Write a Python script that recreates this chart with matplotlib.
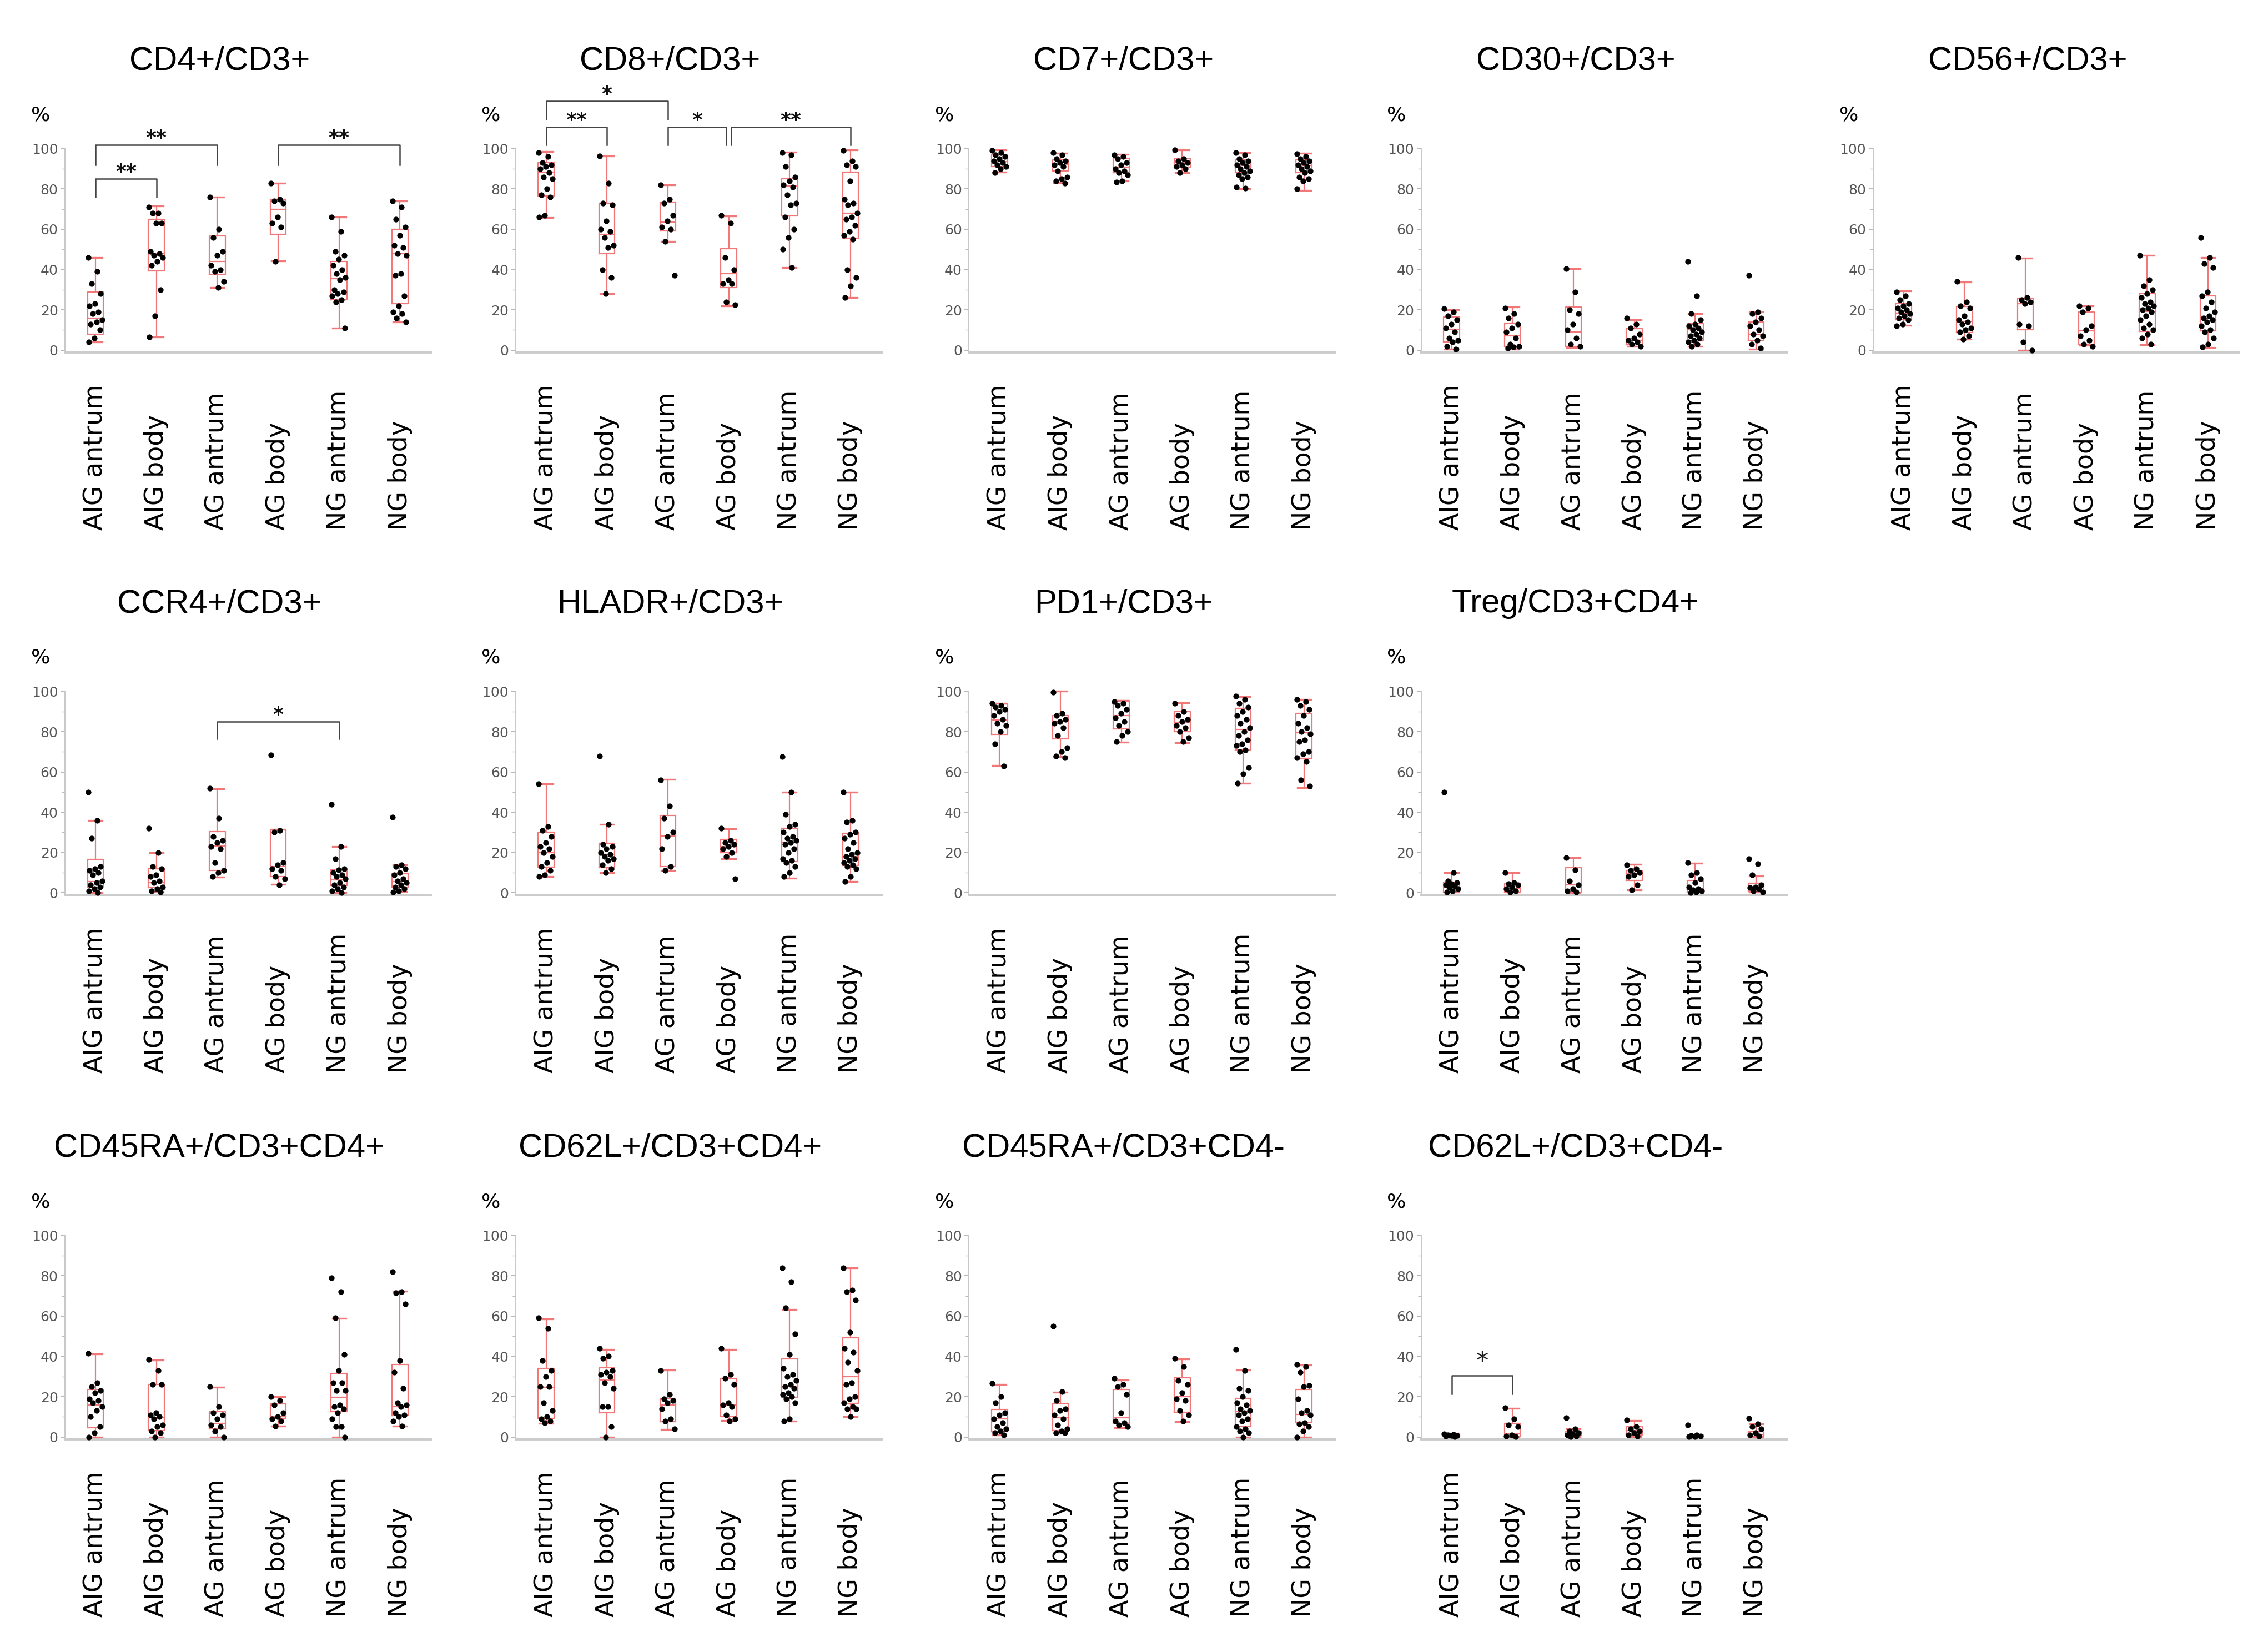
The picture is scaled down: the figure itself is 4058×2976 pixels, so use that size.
import matplotlib
matplotlib.use("Agg")
import matplotlib.pyplot as plt
from matplotlib.ticker import MultipleLocator

groups = ["AIG antrum", "AIG body", "AG antrum", "AG body", "NG antrum", "NG body"]

# box stats per group: [whisker low, q1, median, q3, whisker high]
cd4_box = [[4, 8, 16, 29, 46], [6.5, 39.4, 48, 65, 71.5], [31, 37.6, 44, 56.7, 76],
           [44.4, 57.6, 70, 75, 83], [11, 25, 35.5, 44, 66], [14, 23, 48, 60, 74]]
cd4_pts = [[46, 39, 33, 28, 23, 22, 19, 18, 15, 14, 13, 10, 6, 4],
           [71, 68, 68, 63, 63, 49, 48, 47, 46, 44, 42, 30, 17, 6.5],
           [76, 60, 56, 49, 47, 42, 40, 39, 34, 31],
           [83, 75, 74, 73, 66, 63, 61, 44],
           [66, 59, 49, 47, 45, 42, 40, 38, 36, 35, 30, 29, 28, 27, 25, 24, 11],
           [74, 71, 65, 61, 57, 52, 51, 48, 47, 38, 37, 27, 22, 19, 18, 16, 14]]

cd8_box = [[65.8, 76.5, 88.5, 93, 98.5], [28, 48, 57.5, 73, 96.5], [54, 59.3, 63.7, 73.6, 82],
           [22, 31, 38, 50.4, 66.7], [41, 66.5, 81.5, 85, 98.3], [26, 55.6, 68, 88.5, 99.5]]
cd8_pts = [[98, 96, 93, 92, 91, 90, 88, 86, 85, 80, 77, 76, 67, 66],
           [96.5, 83, 73, 72, 64, 60, 59, 56, 52, 51, 40, 36, 28],
           [82, 75, 73, 67, 64, 61, 60, 54, 37],
           [67, 63, 46, 40, 35, 33, 33, 24, 22.5],
           [98, 97, 91, 86, 84, 82, 81, 77, 73, 72, 66, 60, 56, 50, 41],
           [99, 94, 92, 91, 84, 75, 73, 72, 68, 66, 65, 62, 59, 57, 55, 40, 36, 32, 26]]

cd7_box = [[88.5, 91.2, 93.5, 96.8, 99.5], [83.2, 88.8, 92.2, 94.5, 97.7], [83.9, 88, 90.8, 95.4, 97.2],
           [88, 90.8, 93, 95, 99.5], [80, 88.5, 91.7, 94.5, 98], [79.4, 88, 91.7, 94.5, 97.7]]
cd7_pts = [[99, 98, 97, 96, 95, 94, 93, 92, 91, 90, 88],
           [98, 97, 95, 94, 93, 92, 91, 89, 86, 85, 84, 83],
           [97, 96, 95, 93, 92, 90, 89, 88, 87, 84, 83.5],
           [99.5, 95, 94, 93, 92, 91, 90, 88],
           [98, 97, 95, 94, 93, 92, 91, 90, 89, 88, 87, 86, 85, 81, 80.5],
           [97.5, 96, 95, 94, 93, 92, 91, 90, 89, 88, 86, 85, 84, 80]]

cd30_box = [[0.5, 4, 10.3, 16.5, 20], [0.5, 2, 7, 13.5, 21.4], [1.4, 2, 9, 21.4, 40.5],
            [2, 2.7, 5, 10.7, 15], [1.8, 4.6, 10, 13.3, 18], [0.6, 5, 7.8, 14, 19]]
cd30_pts = [[20.5, 19, 17, 15, 13, 11, 9, 6, 5, 4, 2, 0.5],
            [21, 18, 16, 13, 11, 9, 6, 3, 2, 1.5, 1],
            [40.5, 29, 20, 18, 13, 10, 6, 3, 2],
            [16, 13, 11, 8, 6, 5, 4, 3, 2],
            [44, 27, 18, 15, 13, 12, 11, 10, 9, 8, 7, 6, 5, 4, 3, 2],
            [37, 19, 18, 16, 14, 12, 10, 8, 7, 5, 3, 1]]

cd56_box = [[12.2, 15, 18.5, 23.2, 29.4], [5.5, 8.7, 14.2, 21.7, 33.7], [0, 10, 23, 25.7, 45.6],
            [2.3, 3, 9.6, 19, 22], [2.8, 9.4, 19.3, 28, 47], [1.4, 9.6, 16, 27, 46]]
cd56_pts = [[29, 27, 25, 23, 22, 21, 20, 19, 18, 17, 16, 15, 13, 12],
            [34, 24, 22, 21, 17, 15, 14, 13, 11, 10, 9, 7, 5.5],
            [46, 26, 25, 24, 23, 13, 12, 4, 0],
            [22, 21, 19, 12, 10, 7, 5, 3, 2],
            [47, 35, 32, 30, 28, 26, 24, 23, 22, 21, 20, 19, 17, 15, 13, 11, 10, 8, 6, 3],
            [56, 46, 43, 41, 29, 27, 24, 21, 19, 17, 16, 15, 14, 12, 10, 9, 6, 3, 1.5]]

ccr4_box = [[0, 3, 5.6, 16.7, 36], [0.6, 2.5, 5, 12, 20], [7.9, 11, 23.3, 30.4, 51.6],
            [4.3, 8, 13, 31.2, 31.4], [0.2, 3.8, 6.5, 11.3, 23], [0.6, 3, 5.6, 9.7, 14]]
ccr4_pts = [[50, 36, 27, 13, 12, 11, 10, 9, 6, 5, 4, 3, 2, 1, 0],
            [32, 20, 13, 12, 9, 8, 6, 5, 3, 2, 1, 0.5],
            [52, 37, 28, 26, 25, 23, 22, 15, 11, 10, 8],
            [68.5, 31, 30, 15, 14, 12, 11, 8, 7, 4],
            [44, 23, 17, 12, 11.5, 10, 9, 8, 7, 5, 4, 3, 2, 1, 0],
            [37.5, 14, 13, 12, 10, 9, 7, 6, 5, 4, 3, 2, 1, 0.5]]

hladr_box = [[8, 12.7, 20, 30, 54], [10, 12.5, 19, 24.7, 34], [11, 13, 28.3, 38.3, 56.4],
             [17, 20, 23, 26.5, 31.8], [7.4, 15.6, 25.2, 32, 50], [5.6, 13.6, 18, 29.7, 50]]
hladr_pts = [[54, 33, 31, 28, 25, 23, 22, 20, 18, 15, 13, 11, 9, 8],
             [68, 34, 24, 23, 22, 20, 19, 18, 17, 16, 14, 12, 10],
             [56, 43, 37, 30, 28, 22, 13, 11],
             [32, 26, 25, 24, 23, 22, 20, 18, 7],
             [67.5, 50, 39, 34, 33, 30, 28, 27, 26, 25, 24, 22, 20, 17, 16, 15, 13, 10, 8],
             [50, 36, 35, 30, 29, 27, 25, 22, 20, 19, 18, 17, 16, 15, 14, 13, 12, 8, 5.6]]

pd1_box = [[63.3, 78.5, 85.8, 93.9, 94], [67.6, 76.4, 85.3, 88, 100], [74.9, 81.5, 88, 95.3, 95.5],
           [74.4, 80, 84.8, 90, 94.4], [54.3, 71, 81.2, 91.7, 97.3], [52.2, 66.7, 79.4, 89, 96]]
pd1_pts = [[94, 93, 92, 91, 90, 88, 86, 84, 83, 80, 74, 63],
           [99.5, 89, 88, 86, 85, 84, 82, 78, 72, 70, 68, 67],
           [95, 94, 93, 91, 89, 87, 85, 83, 80, 78, 75],
           [94, 90, 88, 86, 85, 83, 82, 80, 77, 75],
           [97.5, 96, 94, 92, 90, 88, 86, 84, 82, 80, 78, 76, 74, 73, 71, 70, 62, 59, 54.5],
           [96, 95, 93, 91, 88, 84, 82, 80, 79, 76, 75, 70, 69, 67, 65, 56, 53]]

treg_box = [[0.5, 0.5, 2.8, 5.3, 10], [0.5, 0.5, 2, 4.5, 10], [0.2, 0.5, 3.9, 12.6, 17.4],
            [1.4, 6.3, 9.5, 11, 14.2], [0.5, 0.5, 2.1, 6.3, 14.7], [0.5, 0.7, 2.6, 4.7, 8.4]]
treg_pts = [[50, 10, 6, 5, 4.5, 4, 3.5, 3, 2, 1, 0.5],
            [10, 5, 4.5, 4, 3, 2, 1, 0.5],
            [17.5, 11.5, 6, 4, 2, 1, 0.5],
            [14, 12, 11, 10, 9, 8, 4, 1.5],
            [15, 10, 9, 7, 5, 3, 2, 1.5, 1, 0.5, 0],
            [17, 14.5, 9, 4, 3, 2.5, 2, 1, 0.5]]

ra4p_box = [[0, 4.5, 15.8, 23.7, 41.2], [0, 3.2, 9.5, 26.2, 38.2], [0, 4, 6.8, 12.7, 24.6],
            [5.4, 9.2, 10, 16.5, 20], [0, 12.5, 19.6, 31.7, 58.8], [5.4, 10.7, 15, 36, 72.4]]
ra4p_pts = [[41.5, 27, 25, 23, 22, 19, 18, 17, 15, 13, 10, 5, 2, 0],
            [38.5, 33, 26, 26, 12, 11, 10, 9, 6, 5, 3, 2, 0],
            [25, 15, 12, 11, 9, 6, 5, 3, 0],
            [20, 18, 16, 12, 10, 9, 8, 5.5],
            [79, 72, 59, 41, 33, 27, 27, 23, 23, 16, 15, 14, 12, 9, 5, 5, 0],
            [82, 72, 71.5, 66, 38, 32, 24, 17, 16, 15, 12, 11, 10, 8, 5.5]]

l4p_box = [[6.8, 9.2, 24.6, 34.1, 58.5], [0, 11.9, 28.2, 34.3, 43.5], [3.8, 7.7, 15.8, 19.2, 33.2],
           [8.1, 10, 15.8, 29, 43.5], [8, 19.7, 25.3, 38.7, 63.2], [10, 16.7, 29.8, 49.2, 83.8]]
l4p_pts = [[59, 54, 38, 33, 30, 25, 25, 17, 13, 10, 9, 8, 7],
           [44, 40, 39, 33, 32, 31, 30, 27, 24, 15, 15, 5, 0],
           [33, 21, 19, 18, 17, 14, 9, 8, 4],
           [44, 31, 29, 26, 17, 16, 15, 11, 9, 8],
           [84, 77, 64, 51, 41, 34, 31, 30, 28, 26, 25, 24, 22, 21, 20, 19, 17, 9, 8],
           [84, 73, 72, 68, 52, 44, 42, 37, 33, 27, 26, 20, 19, 17, 15, 14, 14, 10]]

ra4n_box = [[0.9, 2.7, 8.9, 13.6, 26.2], [1.8, 3.2, 9.5, 16.7, 22.1], [4.5, 6.8, 9.5, 23.7, 28.2],
            [7.7, 12.2, 19.9, 29.4, 38.6], [0, 5, 12.5, 19.2, 33.2], [0, 7.2, 11.3, 23.7, 35.7]]
ra4n_pts = [[26.5, 20, 17, 12, 11, 9, 7, 5, 4, 3, 2, 1],
            [55, 22.5, 18, 14, 13, 11, 9, 6, 4, 3, 2, 2],
            [29, 26, 25, 21, 12, 8, 7, 6, 5],
            [39, 35, 28, 26, 22, 19, 18, 13, 11, 8],
            [43.5, 33, 24, 23, 20, 17, 16, 14, 13, 12, 11, 9, 8, 5, 4, 3, 2, 0],
            [36, 35, 32, 25.5, 25, 19, 13, 12, 11, 7, 6.5, 5, 3, 0]]

l4n_box = [[0.3, 0.3, 0.9, 1.5, 1.8], [0.3, 0.3, 1.5, 6.8, 14.2], [0.3, 0.7, 1.5, 2.6, 4],
           [0.3, 0.9, 3.2, 5.2, 8.2], [0.2, 0.2, 0.6, 0.9, 1.1], [0.3, 0.4, 1.4, 2.6, 6.5]]
l4n_pts = [[1.5, 1.2, 1, 0.8, 0.6, 0.5, 0.3],
           [14.5, 9, 6, 5, 1, 0.5, 0.3],
           [9.5, 4, 3, 2, 1.5, 1, 0.5, 0.3],
           [8.3, 5, 4, 3, 2, 1, 0.5],
           [6, 1, 0.6, 0.5, 0.3, 0.2],
           [9.3, 6.5, 5, 4, 2, 1, 0.5]]

# title, box stats, points, row, column
panels = [
    ("CD4+/CD3+", cd4_box, cd4_pts, 0, 0),
    ("CD8+/CD3+", cd8_box, cd8_pts, 0, 1),
    ("CD7+/CD3+", cd7_box, cd7_pts, 0, 2),
    ("CD30+/CD3+", cd30_box, cd30_pts, 0, 3),
    ("CD56+/CD3+", cd56_box, cd56_pts, 0, 4),
    ("CCR4+/CD3+", ccr4_box, ccr4_pts, 1, 0),
    ("HLADR+/CD3+", hladr_box, hladr_pts, 1, 1),
    ("PD1+/CD3+", pd1_box, pd1_pts, 1, 2),
    ("Treg/CD3+CD4+", treg_box, treg_pts, 1, 3),
    ("CD45RA+/CD3+CD4+", ra4p_box, ra4p_pts, 2, 0),
    ("CD62L+/CD3+CD4+", l4p_box, l4p_pts, 2, 1),
    ("CD45RA+/CD3+CD4-", ra4n_box, ra4n_pts, 2, 2),
    ("CD62L+/CD3+CD4-", l4n_box, l4n_pts, 2, 3),
]

# significance brackets: (from group, to group, bar level, leg end, label)
brackets = {
    "CD4+/CD3+": [(1, 3, 102, 92, "**"), (1, 2, 85, 76, "**"), (4, 6, 102, 92, "**")],
    "CD8+/CD3+": [(1, 3, 123.6, 114.5, "*"), (1, 2, 110.8, 102, "**"),
                  (3, 3.96, 110.8, 102, "*"), (4.04, 6, 110.8, 102, "**")],
    "CCR4+/CD3+": [(3, 5, 85, 76.4, "*")],
    "CD62L+/CD3+CD4-": [(1, 2, 30.4, 21.4, "*")],
}

RED = "#f07878"
W, H = 1560.0, 1144.6
col_left = [45, 357, 671, 984, 1297]
row_top = [103, 479, 856]
AX_W, AX_H = 253, 141

fig = plt.figure(figsize=(40.58, 29.76), dpi=100)

def jitter(n):
    return [((k * 0.618034) % 1.0 - 0.5) * 0.24 for k in range(n)]

for title, box, pts, r, c in panels:
    ax = fig.add_axes([col_left[c] / W, 1 - (row_top[r] + AX_H) / H, AX_W / W, AX_H / H])
    pos = list(range(1, len(groups) + 1))
    stats = [dict(whislo=b[0], q1=b[1], med=b[2], q3=b[3], whishi=b[4], fliers=[]) for b in box]
    art = ax.bxp(stats, positions=pos, widths=0.26, capwidths=0.22, showfliers=False,
                 boxprops=dict(color=RED, lw=1.6), medianprops=dict(color=RED, lw=1.6),
                 whiskerprops=dict(color=RED, lw=1.6), capprops=dict(color=RED, lw=2.4))
    for key in art:
        for a in art[key]:
            a.set_clip_on(False)
    for p, vals in zip(pos, pts):
        xs = [p + j for j in jitter(len(vals))]
        ax.scatter(xs, vals, s=55, color="black", zorder=5, clip_on=False, linewidths=0)

    ax.set_xlim(0.5, 6.5)
    ax.set_ylim(-1, 100)
    ax.set_yticks([0, 20, 40, 60, 80, 100])
    ax.yaxis.set_minor_locator(MultipleLocator(10))
    ax.tick_params(axis="y", which="major", labelsize=18, labelcolor="#555555",
                   color="#aaaaaa", length=6, width=1.2, pad=3)
    ax.tick_params(axis="y", which="minor", color="#bbbbbb", length=4, width=1)
    ax.set_xticks([])
    for s in ("top", "right"):
        ax.spines[s].set_visible(False)
    ax.spines["left"].set_color("#c4c4c4")
    ax.spines["left"].set_linewidth(1.3)
    ax.spines["bottom"].set_color("#cccccc")
    ax.spines["bottom"].set_linewidth(3.5)

    for p, g in zip(pos, groups):
        ax.text(p, -0.875, g, transform=ax.get_xaxis_transform(), rotation=90,
                ha="center", va="bottom", fontsize=33, family="DejaVu Sans")

    ax.text(0.423, 1.43, title, transform=ax.transAxes, ha="center", va="center",
            fontsize=43, family="Liberation Sans")
    ax.text(-0.067, 1.165, "%", transform=ax.transAxes, ha="center", va="center",
            fontsize=26, family="DejaVu Sans")

    for a, b, top, leg, lab in brackets.get(title, []):
        ax.plot([a, a, b, b], [leg, top, top, leg], color="#444444", lw=1.8, clip_on=False)
        if title == "CD62L+/CD3+CD4-":
            ax.text((a + b) / 2, top + 3.5, lab, ha="center", va="baseline",
                    fontsize=32, color="#222222", clip_on=False)
        else:
            ax.text((a + b) / 2, top + 0.5, lab, ha="center", va="baseline",
                    fontsize=26, fontweight="bold", color="#111111", clip_on=False)

fig.savefig("out.png", dpi=100, facecolor="white")
